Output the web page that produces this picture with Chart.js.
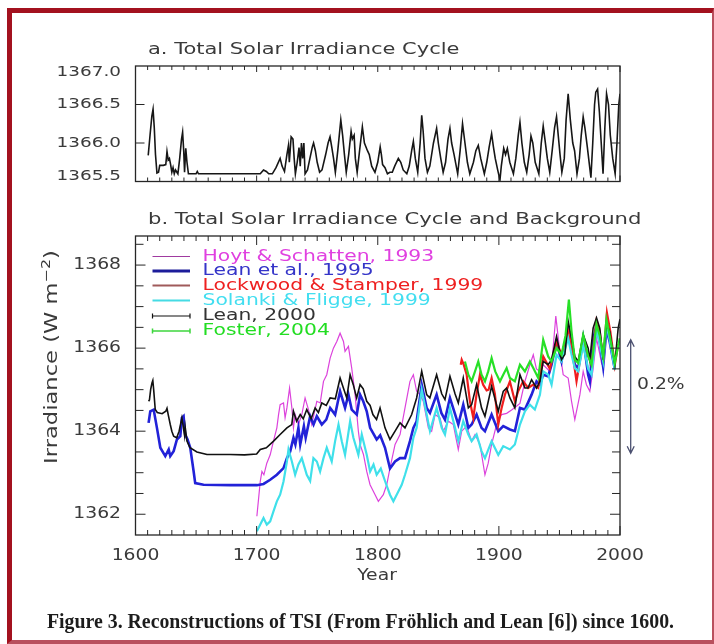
<!DOCTYPE html>
<html><head><meta charset="utf-8">
<script src="https://cdn.jsdelivr.net/npm/chart.js@4.4.1/dist/chart.umd.min.js"></script>
<style>
html,body{margin:0;padding:0;background:#fff;}
#page{position:relative;width:714px;height:644px;overflow:hidden;background:#fff;}
#frame{position:absolute;left:7px;top:8px;width:700px;height:627px;border-left:5px solid #a3111f;border-top:5px solid #a3111f;border-right:2px solid #b9505e;border-bottom:4px solid #b9505e;}
canvas{position:absolute;left:0;top:0;}
#caption{position:absolute;left:47px;top:608px;line-height:22px;font:bold 22px "Liberation Serif","Times New Roman",serif;color:#1c1c1c;white-space:nowrap;transform-origin:0 0;}
</style></head>
<body><div id="page"><div id="frame"></div>
<canvas id="ca" width="714" height="644"></canvas>
<canvas id="cb" width="714" height="644"></canvas>
<span id="caption">Figure 3. Reconstructions of TSI (From Fröhlich and Lean [6]) since 1600.</span>
</div>
<script>
// ---------- Panel a: solar cycle ----------
const yearsA=[1610.5,1612,1613.5,1614.5,1615.5,1616.5,1617.7,1619,1620,1623,1625,1626,1627,1628,1629,1630,1631,1632,1633,1635,1636.5,1638,1638.9,1639.8,1640.5,1641.5,1642.5,1643.7,1650,1651,1652,1700,1703,1705.7,1708,1710,1713,1716,1719.4,1721,1723,1725,1726.3,1727,1728.5,1730,1731,1732,1733.5,1735,1736,1737,1738,1739,1740,1742,1744,1746,1747,1748.5,1750,1752,1754,1757,1759,1760.6,1762,1763.5,1765,1767,1769.5,1771,1772.5,1774,1776,1778,1779,1780.5,1781.5,1783,1785,1787.3,1789,1791.5,1793,1795,1797.7,1800,1802,1803,1804,1806,1808,1810,1812,1814,1817,1819,1821,1824,1826,1828,1829.4,1831,1833,1835,1836.3,1837.5,1839,1841,1843,1846,1848.6,1850,1852,1854,1856,1858,1859.6,1861,1863,1866,1868,1870,1872,1874,1876,1879,1881,1883,1885,1888,1890,1892,1894,1895.5,1897,1899,1900.9,1902,1904,1905.5,1907,1909,1912,1914,1916,1917.4,1919,1921,1923,1925,1926.5,1928,1930,1933,1935,1936.6,1938,1940,1942,1944,1946,1947.6,1949,1950.5,1952,1954,1955.5,1957.2,1959,1961,1962.5,1964.5,1966.5,1968,1969.6,1971,1973,1976,1977.5,1979,1980,1981.5,1983,1984.5,1986,1987.5,1988.9,1990.5,1992,1994,1996,1997.5,1999,2000];
const tsiA=[1365.84,1366.1,1366.35,1366.44,1366.2,1365.85,1365.61,1365.62,1365.71,1365.71,1365.72,1365.89,1365.78,1365.8,1365.72,1365.62,1365.68,1365.6,1365.65,1365.6,1365.8,1366.05,1366.14,1365.9,1365.62,1365.93,1365.75,1365.6,1365.6,1365.63,1365.6,1365.6,1365.6,1365.65,1365.63,1365.6,1365.6,1365.68,1365.8,1365.7,1365.63,1365.85,1365.97,1365.75,1366.08,1366.05,1365.8,1365.6,1365.75,1365.94,1365.7,1366.0,1365.8,1366.0,1365.6,1365.65,1365.8,1365.95,1366.0,1365.9,1365.75,1365.62,1365.65,1365.85,1366.0,1366.08,1365.95,1365.8,1365.62,1365.9,1366.3,1366.1,1365.85,1365.62,1365.85,1366.15,1366.05,1366.1,1365.8,1365.62,1365.9,1366.21,1366.0,1365.9,1365.85,1365.7,1365.62,1365.75,1365.95,1365.85,1365.72,1365.68,1365.6,1365.62,1365.62,1365.7,1365.8,1365.75,1365.65,1365.6,1365.7,1365.9,1366.02,1365.8,1365.62,1366.0,1366.36,1366.15,1365.8,1365.62,1365.7,1366.0,1366.19,1366.0,1365.8,1365.62,1365.75,1366.05,1366.19,1366.0,1365.85,1365.6,1365.9,1366.25,1366.0,1365.75,1365.6,1365.75,1365.9,1365.97,1365.8,1365.6,1365.75,1365.95,1366.12,1365.95,1365.8,1365.65,1365.52,1365.7,1365.93,1365.85,1365.93,1365.75,1365.6,1365.8,1366.1,1366.27,1366.0,1365.75,1365.62,1365.85,1366.09,1366.0,1365.75,1365.6,1366.0,1366.22,1366.05,1365.8,1365.62,1365.9,1366.2,1366.34,1366.1,1365.85,1365.62,1365.8,1366.3,1366.64,1366.3,1366.0,1365.9,1365.6,1365.8,1366.1,1366.34,1366.2,1365.95,1365.55,1366.0,1366.5,1366.66,1366.7,1366.4,1366.0,1365.6,1366.2,1366.64,1366.5,1366.1,1365.8,1365.6,1366.0,1366.5,1366.64];

// ---------- Panel b: reconstructions ----------
const seriesNames=["Hoyt & Schatten, 1993","Lean et al., 1995","Lockwood & Stamper, 1999","Solanki & Fligge, 1999","Lean, 2000","Foster, 2004"];
const hoytYears=[1700.2,1703,1704.4,1706,1708.4,1711.2,1713.9,1716.7,1718.1,1719.4,1722.2,1723.5,1725,1727.2,1729.1,1730.4,1731.8,1734.5,1737.3,1740,1742.8,1745.5,1749.7,1752.5,1755.2,1757.9,1760.7,1763.4,1766.2,1768.9,1771.7,1773,1775.8,1778.5,1781.3,1784,1785.4,1788.2,1790.9,1793.65,1797.8,1800.5,1804.6,1807.4,1810.1,1814.3,1818.4,1822.5,1826.6,1829.4,1832.1,1834.9,1837.6,1841.8,1844.5,1847.3,1851.4,1854.1,1858.3,1862.4,1866.5,1869.3,1873.4,1877.5,1880.3,1884.4,1888.5,1891.2,1894,1898.1,1902.2,1906.4,1910.5,1914.5,1917.4,1921.5,1925.6,1928.4,1931,1933.9,1936.6,1942.1,1944.5,1947,1950.3,1953.1,1957.2,1960,1962.7,1966.9,1969.6,1972.3,1975.1,1977.8,1980.6,1983,1985];
const hoytTSI=[1361.95,1362.79,1363.03,1362.95,1363.23,1363.43,1363.76,1364.08,1364.4,1364.64,1364.68,1364.32,1364.56,1365.04,1364.56,1364.08,1364.4,1364.16,1364.4,1364.8,1364.52,1364.16,1364.72,1364.68,1365.2,1365.36,1365.76,1366.0,1366.16,1366.36,1366.16,1365.92,1366.04,1365.52,1364.88,1364.0,1363.68,1363.44,1363.03,1362.71,1362.47,1362.31,1362.47,1362.71,1363.11,1363.68,1363.92,1364.56,1365.2,1365.36,1364.96,1364.88,1364.72,1364.08,1364.0,1364.4,1364.32,1364.0,1364.24,1364.16,1363.56,1364.0,1364.12,1363.76,1363.92,1363.68,1362.95,1363.23,1363.68,1364.16,1364.4,1364.43,1364.51,1364.6,1364.67,1365.2,1365.6,1365.84,1365.5,1365.44,1365.6,1365.44,1365.9,1366.77,1365.92,1365.36,1365.28,1364.72,1364.28,1364.88,1365.44,1365.12,1364.96,1365.5,1366.24,1365.9,1365.6];
const lean95Years=[1610.8,1612.2,1615,1617.7,1620.5,1624.6,1627.4,1628.7,1631.5,1634.2,1637,1638.3,1639.7,1641,1643,1645.2,1648,1649.3,1656.2,1678.2,1700.2,1705.7,1711.2,1716.7,1722.2,1725,1727.7,1730.4,1732,1734.5,1736,1739,1740.5,1744.2,1747,1749.7,1753.8,1757.5,1760.7,1764.8,1768.9,1773,1775.8,1778.5,1782.7,1785.4,1788,1790.9,1793.7,1799.1,1802,1806,1810.1,1814.3,1818.4,1822.5,1826.6,1829.4,1832.1,1836.3,1840.4,1843.1,1848.6,1852.5,1855.5,1859.6,1863.5,1866.5,1870.6,1874.8,1877.5,1881.6,1885.7,1888.5,1894,1899.5,1903.6,1909.1,1913.2,1917.4,1921.5,1927,1931.1,1933.9,1936.6,1940.7,1943.5,1947.6,1951.7,1957.2,1960,1962.7,1965.5,1969.6,1973.7,1975.1,1977.8,1980.6,1983.3,1986.1,1988.8,1991.5,1995.7];
const lean95TSI=[1364.2,1364.48,1364.52,1364.08,1363.6,1363.4,1363.56,1363.4,1363.52,1363.8,1363.88,1364.32,1364.36,1363.92,1363.8,1363.6,1363.03,1362.75,1362.71,1362.7,1362.7,1362.73,1362.83,1362.95,1363.11,1363.35,1363.51,1363.84,1363.68,1364.08,1363.68,1364.12,1363.84,1364.36,1364.16,1364.36,1364.16,1364.28,1364.56,1364.4,1364.96,1364.56,1364.88,1364.52,1364.4,1364.88,1364.72,1364.48,1364.08,1363.8,1363.9,1363.6,1363.1,1363.27,1363.35,1363.35,1363.76,1364.08,1364.24,1365.12,1364.56,1364.44,1364.88,1364.44,1364.28,1364.8,1364.44,1364.16,1364.64,1364.08,1364.16,1364.4,1364.08,1364.0,1364.4,1364.0,1364.12,1364.04,1364.0,1364.56,1364.52,1364.88,1365.2,1365.12,1365.36,1365.32,1365.6,1366.16,1365.68,1366.48,1366.08,1365.6,1365.52,1366.24,1365.36,1365.2,1366.2,1366.55,1366.15,1365.55,1366.45,1366.15,1365.5];
const lockYears=[1868.5,1869.3,1871,1873.4,1876.1,1878.9,1881.6,1884.4,1887,1889.9,1891.5,1894,1896.7,1899.5,1902.2,1905,1909.1,1913.2,1915.9,1920.1,1924.2,1928.4,1932.5,1936.6,1942.1,1947.6,1951.7,1957.2,1960,1964.1,1969.6,1973.7,1976.5,1980.6,1983.3,1986.1,1989.2,1992,1995.7,1998.5];
const lockTSI=[1365.6,1365.72,1365.6,1365.36,1364.72,1364.32,1364.9,1365.36,1365.12,1364.98,1365.0,1365.28,1364.9,1364.16,1364.55,1364.88,1365.2,1364.72,1364.96,1365.2,1365.04,1365.12,1365.04,1365.8,1365.5,1366.16,1365.84,1366.4,1366.04,1365.2,1366.16,1365.84,1365.6,1366.65,1366.4,1365.68,1366.85,1366.4,1365.6,1366.1];
const solYears=[1700.2,1703,1705.7,1708.4,1711.2,1713.9,1716.7,1719.4,1722.2,1725,1726.3,1729.1,1731.8,1734.5,1737.3,1741.4,1744.2,1746.9,1749.7,1752.4,1755.2,1757.9,1762,1764.8,1767.6,1770.3,1773,1777.2,1779.9,1784,1786.8,1790.9,1793.7,1796.5,1799.1,1802.5,1806,1810.1,1812.9,1817,1819.8,1822.5,1826.6,1829.4,1832.1,1836.3,1840.4,1843.1,1848.6,1852.8,1855.5,1859.6,1863.8,1866.5,1870.6,1874.8,1877.5,1881.6,1885.7,1888.5,1894,1899.5,1903.6,1909.1,1913.2,1917.4,1921.5,1925.6,1929.7,1933.9,1936.6,1940.7,1943.5,1947.6,1951.7,1957.2,1960,1962.7,1965.5,1969.6,1973.7,1976.5,1980.6,1983.3,1986.1,1988.8,1991.5,1995.7];
const solTSI=[1361.59,1361.75,1361.91,1361.75,1361.83,1362.07,1362.31,1362.47,1362.79,1363.27,1363.56,1363.27,1362.95,1363.2,1363.35,1362.95,1362.8,1363.35,1363.27,1363.03,1363.35,1363.6,1363.27,1363.76,1364.16,1363.76,1363.43,1364.24,1363.84,1363.43,1363.92,1363.43,1363.03,1363.2,1362.95,1363.1,1362.8,1362.47,1362.31,1362.55,1362.71,1362.95,1363.35,1363.84,1364.08,1365.0,1364.4,1364.0,1364.56,1364.08,1363.92,1364.56,1364.08,1363.76,1364.24,1363.92,1363.76,1363.92,1363.52,1363.35,1363.76,1363.43,1363.64,1363.56,1363.68,1364.16,1364.48,1364.64,1364.52,1364.88,1365.44,1365.36,1365.12,1365.84,1365.68,1366.24,1365.84,1365.52,1365.44,1366.08,1365.5,1365.36,1366.48,1366.1,1365.68,1366.56,1366.2,1365.48];
const lean00Years=[1610.8,1611.5,1612.5,1613.6,1614.3,1615,1616.3,1618,1622,1625,1626,1627,1628.7,1630,1631.5,1634,1636,1638.3,1639.5,1640.5,1641,1642.5,1645,1650.7,1659,1678,1690,1700,1703,1708,1714,1719.4,1725,1729,1730.4,1733,1736,1738.5,1741.4,1745,1748.3,1751,1753.8,1757.5,1760.7,1765,1768.9,1771.5,1774.4,1777.2,1779.8,1782.6,1785.4,1788,1790.9,1793.7,1796,1799,1801.9,1806,1810.1,1814.3,1818.4,1822.5,1828,1832.1,1836.3,1840.4,1843,1848.6,1852.8,1855.5,1859.6,1863.8,1866.5,1870.6,1874.8,1877.5,1881.6,1885.7,1888.5,1894,1899.5,1903.6,1906.4,1909.1,1913.2,1917.4,1921.5,1924,1927,1931.1,1933.9,1936.6,1940.7,1943.5,1947.6,1951.7,1954.5,1957.2,1960,1962.7,1965.5,1969.6,1973.7,1975.1,1977.8,1980.6,1983.3,1986.1,1988.8,1991.5,1995.7,1998.5,2000];
const lean00TSI=[1364.72,1364.75,1365.0,1365.16,1365.22,1365.0,1364.52,1364.45,1364.42,1364.48,1364.55,1364.4,1364.16,1364.0,1363.88,1363.84,1364.0,1364.32,1364.1,1363.9,1364.1,1363.76,1363.6,1363.5,1363.44,1363.44,1363.43,1363.45,1363.56,1363.6,1363.76,1363.92,1364.08,1364.16,1364.48,1364.24,1364.4,1364.3,1364.52,1364.3,1364.56,1364.45,1364.68,1364.62,1364.8,1364.78,1365.28,1365.05,1364.8,1365.36,1365.12,1364.8,1365.12,1365.02,1364.72,1364.62,1364.4,1364.28,1364.56,1364.08,1363.8,1364.0,1364.2,1364.08,1364.4,1364.8,1365.44,1364.88,1364.8,1365.36,1364.9,1364.76,1365.32,1364.9,1364.68,1365.28,1364.56,1364.64,1365.12,1364.56,1364.36,1365.08,1364.48,1364.96,1365.04,1364.8,1364.56,1365.36,1365.04,1365.04,1365.24,1365.04,1365.2,1365.68,1365.6,1365.72,1366.28,1365.72,1365.85,1366.65,1366.24,1365.8,1365.68,1366.32,1366.0,1365.72,1366.48,1366.73,1366.48,1365.72,1366.6,1366.4,1365.6,1366.48,1366.7];
const fosterYears=[1872,1874.8,1877.5,1880.3,1883,1885.7,1888.5,1891.2,1894,1897,1900.9,1903.6,1906.4,1909.1,1913.2,1917.4,1921.5,1925.6,1928.4,1932.5,1936.6,1940.7,1943.5,1947.6,1951.7,1955,1957.8,1960,1962.7,1965.5,1969.6,1973.7,1976.5,1980.6,1983.3,1986.1,1988.8,1991.5,1995.7,1999.8];
const fosterTSI=[1365.68,1365.36,1365.2,1365.44,1365.68,1365.36,1365.2,1365.44,1365.76,1365.44,1365.2,1365.36,1365.52,1365.28,1365.2,1365.6,1365.44,1365.68,1365.52,1365.28,1366.2,1365.8,1365.68,1366.0,1365.84,1366.3,1367.17,1366.4,1365.72,1365.64,1366.32,1365.8,1365.6,1366.57,1366.3,1365.8,1366.69,1366.3,1365.64,1366.24];

// tick labels
const yTicksA=[1365.5,1366.0,1366.5,1367.0];
const yLabelsA=["1365.5","1366.0","1366.5","1367.0"];
const xTicksB=[1600,1700,1800,1900,2000];
const xLabelsB=["1600","1700","1800","1900","2000"];
const yTicksB=[1362,1364,1366,1368];
const yLabelsB=["1362","1364","1366","1368"];

const zip=(xs,ys)=>xs.map((x,i)=>({x:x,y:ys[i]}));
const FONT='"DejaVu Sans", Verdana, sans-serif';
const TXT='#3a3a3a';

function txt(ctx,s,x,y,o){
  o=o||{};
  ctx.save();
  ctx.translate(x,y);
  if(o.rot) ctx.rotate(o.rot);
  ctx.scale(o.sx||1.28,1);
  ctx.font=(o.size||15)+'px '+FONT;
  ctx.fillStyle=o.color||TXT;
  ctx.textAlign=o.align||'left';
  ctx.textBaseline='middle';
  ctx.fillText(s,0,0);
  ctx.restore();
}

function drawFrame(chart,opt){
  const {ctx,chartArea:a,scales:{x,y}}=chart;
  ctx.save();
  ctx.strokeStyle='#262626';ctx.lineWidth=1.3;
  ctx.strokeRect(a.left,a.top,a.right-a.left,a.bottom-a.top);
  ctx.lineWidth=1;
  ctx.beginPath();
  for(let v=x.min;v<=x.max+0.001;v+=10){
    const px=x.getPixelForValue(v);
    const L=(Math.round(v)%100===0)?opt.xMaj:opt.xMin;
    ctx.moveTo(px,a.bottom);ctx.lineTo(px,a.bottom-L);
    ctx.moveTo(px,a.top);ctx.lineTo(px,a.top+L);
  }
  opt.yVals.forEach(v=>{
    const py=y.getPixelForValue(v.v);
    ctx.moveTo(a.left,py);ctx.lineTo(a.left+v.L,py);
    ctx.moveTo(a.right,py);ctx.lineTo(a.right-v.L,py);
  });
  ctx.stroke();
  ctx.restore();
}

// ---------- Chart A ----------
const decoA={id:'decoA',afterDraw(chart){
  const {ctx,chartArea:a,scales:{y}}=chart;
  const yv=[{v:1366.0,L:9},{v:1366.5,L:9}];
  drawFrame(chart,{xMaj:6,xMin:4,yVals:yv});
  txt(ctx,'a. Total Solar Irradiance Cycle',148,50,{size:16,sx:1.31});
  yTicksA.forEach((v,i)=>{
    let py=y.getPixelForValue(v);
    py=Math.min(Math.max(py,a.top+6),a.bottom-5);
    txt(ctx,yLabelsA[i],121,py,{size:14.5,sx:1.27,align:'right'});
  });
}};
new Chart(document.getElementById('ca'),{
  type:'line',
  data:{datasets:[{data:zip(yearsA,tsiA),borderColor:'#161616',borderWidth:1.6,pointRadius:0,tension:0}]},
  options:{responsive:false,animation:false,
    layout:{padding:{left:55.5,top:66,right:94,bottom:462.5}},
    scales:{
      x:{type:'linear',min:1600,max:2000,ticks:{display:false},grid:{display:false},border:{display:false},afterFit:s=>{s.height=0;}},
      y:{type:'linear',min:1365.5,max:1367.0,ticks:{display:false},grid:{display:false},border:{display:false},afterFit:s=>{s.width=80;}}
    },
    plugins:{legend:{display:false},tooltip:{enabled:false}}
  },
  plugins:[decoA]
});

// ---------- Chart B ----------
const lineColors=['#dc42dc','#2222d8','#f01e1e','#3fe0ea','#111111','#27e027'];
const legendLineColors=['#a03aa0','#1c1c9a','#a05a5a','#45dbe4','#111111','#3ed63e'];
const legendTextColors=['#e040e0','#3434c8','#ee2020','#42def0','#333333','#22dd22'];
const legendWidths=[1.2,3,2.2,2,1.2,1.5];

const decoB={id:'decoB',afterDraw(chart){
  const {ctx,chartArea:a,scales:{x,y}}=chart;
  const yv=[];
  for(let v=1362;v<=1368.5;v+=0.5) yv.push({v:v,L:(v%2===0)?10:8});
  drawFrame(chart,{xMaj:9,xMin:5,yVals:yv});
  txt(ctx,'b. Total Solar Irradiance Cycle and Background',148,220,{size:16,sx:1.32});
  yTicksB.forEach((v,i)=>txt(ctx,yLabelsB[i],121,y.getPixelForValue(v),{size:15,sx:1.25,align:'right'}));
  xTicksB.forEach((v,i)=>txt(ctx,xLabelsB[i],x.getPixelForValue(v),556,{size:15,sx:1.25,align:'center'}));
  txt(ctx,'Year',377,576,{size:15,sx:1.25,align:'center'});
  // y-axis title (rotated) with superscript
  ctx.save();
  ctx.translate(53,357);ctx.rotate(-Math.PI/2);ctx.scale(1.33,1);
  ctx.fillStyle=TXT;ctx.textBaseline='middle';
  const p1='Irradiance (W m',p3=')';
  ctx.font='12px '+FONT;const w2=ctx.measureText('\u22122').width;
  ctx.font='17px '+FONT;const w1=ctx.measureText(p1).width,w3=ctx.measureText(p3).width;
  let sx0=-(w1+w2+w3)/2;
  ctx.textAlign='left';
  ctx.fillText(p1,sx0,0);
  ctx.font='12px '+FONT;ctx.fillText('\u22122',sx0+w1,-6);
  ctx.font='17px '+FONT;ctx.fillText(p3,sx0+w1+w2,0);
  ctx.restore();
  // legend
  const rows=[256.5,271,285.5,300.5,316,331];
  seriesNames.forEach((n,i)=>{
    ctx.save();
    ctx.strokeStyle=legendLineColors[i];ctx.lineWidth=legendWidths[i];
    ctx.beginPath();ctx.moveTo(152.5,rows[i]);ctx.lineTo(190,rows[i]);
    if(i>=4){ctx.moveTo(152.5,rows[i]-2.5);ctx.lineTo(152.5,rows[i]+2.5);ctx.moveTo(190,rows[i]-2.5);ctx.lineTo(190,rows[i]+2.5);}
    ctx.stroke();ctx.restore();
    txt(ctx,n,202.5,rows[i],{size:15.5,sx:1.31,color:legendTextColors[i]});
  });
  // 0.2% arrow
  const ax=a.right+10.7,y1=y.getPixelForValue(1366.2),y2=y.getPixelForValue(1363.47);
  ctx.save();ctx.strokeStyle='#4b5070';ctx.lineWidth=1.3;ctx.beginPath();
  ctx.moveTo(ax,y1);ctx.lineTo(ax,y2);
  ctx.moveTo(ax-3.5,y1+7);ctx.lineTo(ax,y1);ctx.lineTo(ax+3.5,y1+7);
  ctx.moveTo(ax-3.5,y2-7);ctx.lineTo(ax,y2);ctx.lineTo(ax+3.5,y2-7);
  ctx.stroke();ctx.restore();
  txt(ctx,'0.2%',637,385,{size:15,sx:1.25});
}};

const dsB=[
  {label:seriesNames[0],data:zip(hoytYears,hoytTSI),borderWidth:1.2,order:6},
  {label:seriesNames[1],data:zip(lean95Years,lean95TSI),borderWidth:2.6,order:5},
  {label:seriesNames[2],data:zip(lockYears,lockTSI),borderWidth:2.2,order:4},
  {label:seriesNames[3],data:zip(solYears,solTSI),borderWidth:2.2,order:3},
  {label:seriesNames[4],data:zip(lean00Years,lean00TSI),borderWidth:1.6,order:2},
  {label:seriesNames[5],data:zip(fosterYears,fosterTSI),borderWidth:2.2,order:1}
].map((d,i)=>Object.assign(d,{borderColor:lineColors[i],pointRadius:0,tension:0,fill:false}));

new Chart(document.getElementById('cb'),{
  type:'line',
  data:{datasets:dsB},
  options:{responsive:false,animation:false,
    layout:{padding:{left:55.5,top:236,right:94,bottom:109}},
    scales:{
      x:{type:'linear',min:1600,max:2000,ticks:{display:false},grid:{display:false},border:{display:false},afterFit:s=>{s.height=0;}},
      y:{type:'linear',min:1361.5,max:1368.7,ticks:{display:false},grid:{display:false},border:{display:false},afterFit:s=>{s.width=80;}}
    },
    plugins:{legend:{display:false},tooltip:{enabled:false}}
  },
  plugins:[decoB]
});

// caption fit to reference width
const cap=document.getElementById('caption');
const cw=cap.getBoundingClientRect().width;
cap.style.transform='scaleX('+(627/cw)+')';
</script>
</body></html>
